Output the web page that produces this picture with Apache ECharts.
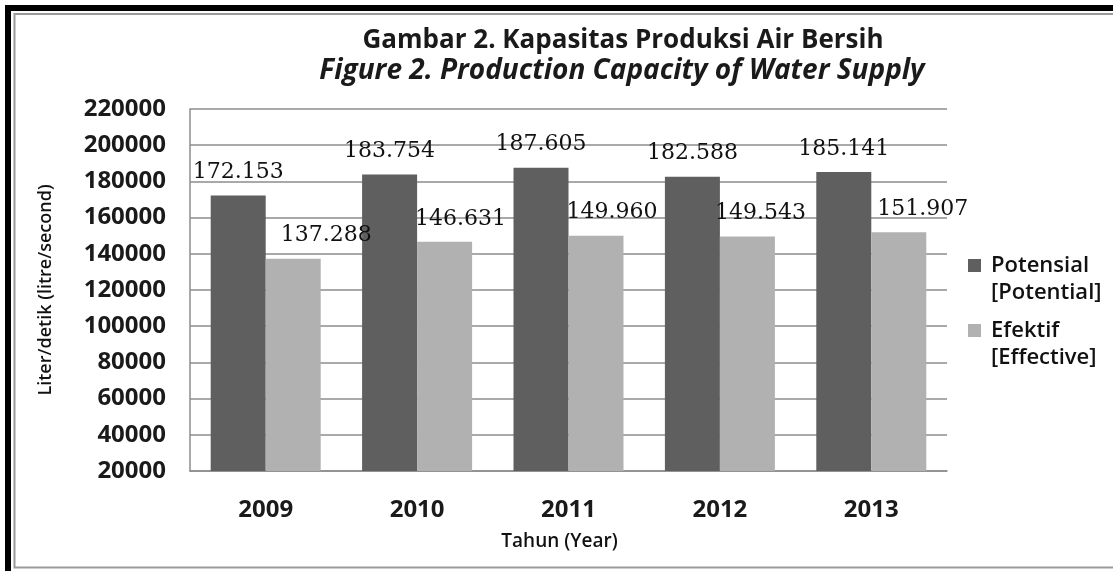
<!DOCTYPE html>
<html>
<head>
<meta charset="utf-8">
<script src="https://cdn.jsdelivr.net/npm/echarts@6/dist/echarts.min.js"></script>
<style>
  html, body { margin: 0; padding: 0; background: #fff; }
  #chart { width: 1113px; height: 571px; }
</style>
</head>
<body>
<div id="chart"></div>
<script>
// data
const years = ["2009", "2010", "2011", "2012", "2013"];
const potensial = [172153, 183754, 187605, 182588, 185141];
const efektif = [137288, 146631, 149960, 149543, 151907];
const yTicks = { min: 20000, max: 220000, interval: 20000 };

// horizontal nudge of the light bar labels (px), as placed in the original
const efektifLabelShift = [33, 16, 16, 13, 24];

const DARK = "#5f5f5f";
const LIGHT = "#b1b1b1";
const FONT = "'Open Sans', sans-serif";
const LABEL_FONT = "'DejaVu Serif', serif";

// Indonesian style thousands separator: 172153 -> 172.153
function fmtDot(v) {
  return String(v).replace(/\B(?=(\d{3})+(?!\d))/g, ".");
}

// square on top, invisible point below so the marker sits next to the first text line
const legendIcon = "path://M0,0L10,0L10,10L0,10ZM0,30.8";

var chart = echarts.init(document.getElementById("chart"));
var option = {
  backgroundColor: "#fff",
  animation: false,
  title: [
    {
      text: "Gambar 2. Kapasitas Produksi Air Bersih",
      left: 618, top: 23, textAlign: "center",
      textStyle: { fontFamily: FONT, fontWeight: "bold", fontSize: 26, color: "#1a1a1a" },
    },
    {
      text: "Figure 2. Production Capacity of Water Supply",
      left: 617, top: 52, textAlign: "center",
      textStyle: { fontFamily: FONT, fontWeight: "bold", fontStyle: "italic", fontSize: 28, color: "#1a1a1a" },
    },
  ],
  graphic: [
    // frame: thick black top/left, thin grey inner line
    { type: "rect", shape: { x: 5, y: 5, width: 1108, height: 6 }, style: { fill: "#000" } },
    { type: "rect", shape: { x: 5, y: 5, width: 6, height: 566 }, style: { fill: "#000" } },
    { type: "polyline", shape: { points: [[1113, 14], [14.5, 14], [14.5, 567.5], [1113, 567.5]] },
      style: { stroke: "#9a9a9a", lineWidth: 2, fill: null } },
  ],
  legend: {
    orient: "vertical",
    left: 968, top: 252,
    padding: 0,
    itemWidth: 13, itemHeight: 40, itemGap: 11,
    icon: legendIcon,
    textStyle: { fontFamily: FONT, fontWeight: 600, fontSize: 22, lineHeight: 27, color: "#111", padding: [0, 0, 0, 5] },
    formatter: function (name) {
      return name === "Potensial" ? "Potensial\n[Potential]" : "Efektif\n[Effective]";
    },
    data: ["Potensial", "Efektif"],
  },
  grid: { left: 190, right: 166, top: 109, bottom: 100, containLabel: false },
  xAxis: {
    type: "category",
    data: years,
    name: "Tahun (Year)",
    nameLocation: "middle",
    nameGap: 61,
    nameTextStyle: { fontFamily: FONT, fontWeight: 600, fontSize: 19, color: "#111", padding: [0, 18, 0, 0] },
    axisLine: { show: true, lineStyle: { color: "#8c8c8c", width: 1.5 } },
    axisTick: { show: false },
    axisLabel: { margin: 27, fontFamily: FONT, fontWeight: "bold", fontSize: 24, color: "#1a1a1a" },
  },
  yAxis: {
    type: "value",
    min: yTicks.min, max: yTicks.max, interval: yTicks.interval,
    name: "Liter/detik (litre/second)",
    nameLocation: "middle",
    nameGap: 135,
    nameTextStyle: { fontFamily: FONT, fontWeight: 600, fontSize: 18, color: "#111" },
    axisLine: { show: true, lineStyle: { color: "#8c8c8c", width: 1.5 } },
    axisTick: { show: false },
    axisLabel: {
      margin: 24, fontFamily: FONT, fontWeight: "bold", fontSize: 24, color: "#1a1a1a",
      formatter: function (v) { return String(v); },
    },
    splitLine: { lineStyle: { color: "#8c8c8c", width: 1.5 } },
  },
  series: [
    {
      name: "Potensial",
      type: "bar",
      data: potensial,
      barWidth: 55,
      barGap: "0%",
      itemStyle: { color: DARK },
      label: {
        show: true, position: "top", distance: 12,
        fontFamily: LABEL_FONT, fontSize: 22, color: "#111",
        formatter: function (p) { return fmtDot(p.value); },
      },
    },
    {
      name: "Efektif",
      type: "bar",
      data: efektif.map(function (v, i) {
        return { value: v, label: { offset: [efektifLabelShift[i], 0] } };
      }),
      barWidth: 55,
      itemStyle: { color: LIGHT },
      label: {
        show: true, position: "top", distance: 12,
        fontFamily: LABEL_FONT, fontSize: 22, color: "#111",
        formatter: function (p) { return fmtDot(p.value); },
      },
    },
  ],
};
chart.setOption(option);
</script>
</body>
</html>
